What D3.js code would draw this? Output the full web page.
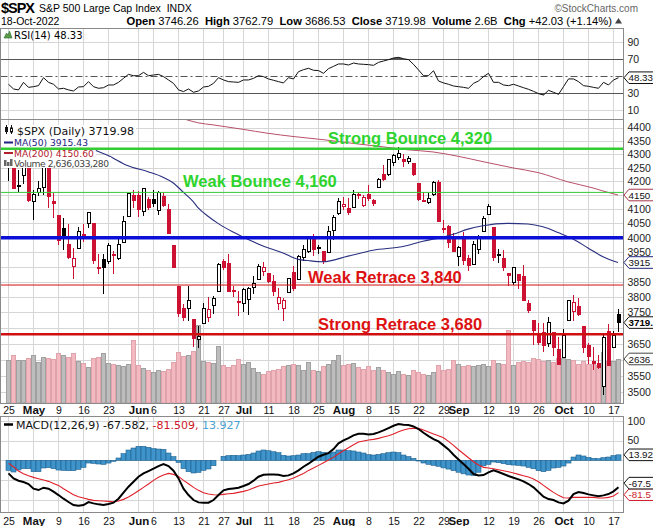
<!DOCTYPE html>
<html><head><meta charset="utf-8">
<script src="https://cdn.jsdelivr.net/npm/d3@7"></script>
<style>body{margin:0;background:#fff}svg{display:block}text{white-space:pre}</style>
</head><body>
<svg id="c" width="653" height="526"></svg>
<script>
// ---------------- DATA ----------------
const dates = ["Apr 25","Apr 26","Apr 27","Apr 28","Apr 29",
"May 2","May 3","May 4","May 5","May 6","May 9","May 10","May 11","May 12","May 13",
"May 16","May 17","May 18","May 19","May 20","May 23","May 24","May 25","May 26","May 27",
"May 31","Jun 1","Jun 2","Jun 3","Jun 6","Jun 7","Jun 8","Jun 9","Jun 10",
"Jun 13","Jun 14","Jun 15","Jun 16","Jun 17","Jun 21","Jun 22","Jun 23","Jun 24",
"Jun 27","Jun 28","Jun 29","Jun 30","Jul 1","Jul 5","Jul 6","Jul 7","Jul 8",
"Jul 11","Jul 12","Jul 13","Jul 14","Jul 15","Jul 18","Jul 19","Jul 20","Jul 21","Jul 22",
"Jul 25","Jul 26","Jul 27","Jul 28","Jul 29","Aug 1","Aug 2","Aug 3","Aug 4","Aug 5",
"Aug 8","Aug 9","Aug 10","Aug 11","Aug 12","Aug 15","Aug 16","Aug 17","Aug 18","Aug 19",
"Aug 22","Aug 23","Aug 24","Aug 25","Aug 26","Aug 29","Aug 30","Aug 31","Sep 1","Sep 2",
"Sep 6","Sep 7","Sep 8","Sep 9","Sep 12","Sep 13","Sep 14","Sep 15","Sep 16",
"Sep 19","Sep 20","Sep 21","Sep 22","Sep 23","Sep 26","Sep 27","Sep 28","Sep 29","Sep 30",
"Oct 3","Oct 4","Oct 5","Oct 6","Oct 7","Oct 10","Oct 11","Oct 12","Oct 13","Oct 14",
"Oct 17","Oct 18"];

const opens = [4255.34,4278.14,4186.52,4222.58,4253.75,
4130.61,4159.78,4181.18,4270.43,4128.17,4081.27,4035.18,3978.0,3903.95,3963.9,
4013.02,4052.0,4051.98,3899.0,3927.76,3919.42,3942.94,3929.59,3984.6,4077.43,
4151.09,4149.78,4095.41,4137.57,4134.72,4096.47,4147.12,4101.65,3974.39,
3838.15,3763.52,3764.05,3728.18,3665.9,3715.31,3733.89,3774.71,3821.75,
3920.76,3913.0,3825.09,3785.99,3781.0,3792.61,3831.98,3858.85,3888.26,
3880.94,3851.95,3779.67,3763.99,3818.0,3883.79,3860.73,3935.32,3955.47,4000.2,
3965.72,3953.22,3951.43,4026.13,4087.33,4112.38,4104.21,4107.96,4154.85,4115.87,
4155.93,4133.11,4181.02,4227.4,4225.02,4269.37,4290.46,4280.4,4273.13,4266.31,
4195.08,4133.09,4126.55,4153.26,4198.74,4034.58,4041.25,4000.67,3936.73,3994.66,
3930.89,3909.43,3959.94,4022.94,4083.67,4037.12,3940.73,3932.41,3880.95,
3849.91,3875.23,3871.4,3782.36,3727.14,3682.72,3686.44,3651.94,3687.01,3633.48,
3609.78,3726.46,3753.25,3771.97,3706.74,3647.51,3595.86,3590.83,3520.37,3690.41,
3638.65,3746.26];

const highs = [4299.02,4278.14,4240.71,4308.45,4269.68,
4169.81,4200.1,4307.66,4270.43,4157.69,4081.27,4068.82,4049.09,3964.8,4038.88,
4046.46,4090.72,4051.98,3945.96,3943.42,3981.88,3955.68,3999.33,4075.14,4158.49,
4168.34,4166.54,4177.51,4142.67,4168.78,4164.86,4160.14,4119.1,3974.39,
3838.15,3778.18,3837.56,3728.18,3707.71,3779.65,3801.79,3802.58,3913.65,
3927.72,3945.86,3836.5,3818.99,3829.82,3832.19,3870.91,3910.63,3918.5,
3880.94,3873.41,3829.44,3796.41,3863.62,3902.44,3939.81,3974.13,3999.29,4012.44,
3975.3,3953.22,4039.56,4078.95,4140.15,4144.95,4140.47,4167.66,4161.29,4151.58,
4186.62,4137.3,4211.03,4257.91,4280.47,4301.79,4325.28,4302.18,4292.53,4266.31,
4195.08,4159.77,4156.56,4200.54,4203.04,4062.99,4044.98,4015.37,3970.23,4018.43,
3942.55,3987.89,4010.5,4076.81,4119.28,4037.12,3961.94,3959.14,3880.95,
3900.45,3876.01,3907.07,3790.78,3727.14,3715.67,3717.53,3736.74,3687.01,3671.44,
3698.35,3791.92,3806.91,3797.93,3706.74,3652.17,3640.66,3613.64,3685.41,3712.0,
3689.73,3762.79];

const lows = [4200.82,4175.04,4162.9,4188.63,4124.28,
4062.51,4147.08,4148.91,4106.01,4067.91,3975.48,3958.17,3928.82,3858.87,3963.9,
3983.99,4033.93,3911.91,3876.58,3810.32,3909.04,3875.13,3925.03,3984.6,4077.43,
4104.88,4073.85,4074.37,4098.67,4109.18,4080.19,4107.2,4017.17,3900.16,
3734.3,3722.3,3722.3,3639.77,3636.87,3715.31,3717.69,3743.52,3821.75,
3889.66,3820.14,3799.02,3738.67,3752.1,3742.06,3809.37,3858.85,3869.34,
3847.22,3802.36,3759.07,3721.56,3817.18,3818.63,3860.73,3922.03,3946.71,3938.24,
3943.46,3910.74,3951.43,3992.97,4079.22,4096.02,4079.81,4107.96,4135.42,4107.31,
4128.97,4112.09,4177.26,4201.41,4219.78,4256.9,4277.77,4253.08,4261.98,4218.7,
4129.86,4124.03,4119.97,4147.59,4057.66,4017.42,3965.21,3954.53,3903.65,3906.21,
3886.75,3906.03,3944.81,4022.94,4083.67,3921.73,3912.54,3888.28,3837.08,
3838.5,3827.54,3789.49,3749.45,3647.47,3644.76,3623.29,3640.61,3610.4,3584.13,
3604.93,3726.46,3722.66,3739.22,3620.73,3588.1,3568.45,3571.03,3491.58,3579.68,
3638.65,3686.53];

const closes = [4296.12,4175.2,4183.96,4287.5,4131.93,
4155.38,4175.48,4300.17,4146.87,4123.34,3991.24,4001.05,3935.18,3930.08,4023.89,
4008.01,4088.85,3923.68,3900.79,3901.36,3973.75,3941.48,3978.73,4057.84,4158.24,
4132.15,4101.23,4176.82,4108.54,4121.43,4160.68,4115.77,4017.82,3900.86,
3749.63,3735.48,3789.99,3666.77,3674.84,3764.79,3759.89,3795.73,3911.74,
3900.11,3821.55,3818.83,3785.38,3825.33,3831.39,3845.08,3902.62,3899.38,
3854.43,3818.8,3801.78,3790.38,3863.16,3830.85,3936.69,3959.9,3998.95,3961.63,
3966.84,3921.05,4023.61,4072.43,4130.29,4118.63,4091.19,4155.17,4151.94,4145.19,
4140.06,4122.47,4210.24,4207.27,4280.15,4297.14,4305.2,4274.04,4283.74,4228.48,
4137.99,4128.73,4140.77,4199.12,4057.66,4030.61,3986.16,3955.0,3966.85,3924.26,
3908.19,3979.87,4006.18,4067.36,4110.41,3932.69,3946.01,3901.35,3873.33,
3899.89,3855.93,3789.93,3757.99,3693.23,3655.04,3647.29,3719.04,3640.47,3585.62,
3678.43,3790.93,3783.28,3744.52,3639.66,3612.39,3588.84,3577.03,3669.91,3583.07,
3677.95,3719.98];
const prevClose = 4271.78;

// volume, billions of shares
const volumes = [2.56,2.86,2.56,2.56,2.70,
2.86,2.46,2.76,2.70,2.66,3.02,2.90,2.76,3.02,2.50,
2.42,2.16,2.70,2.76,3.02,2.42,2.36,2.30,2.22,2.36,
3.75,2.30,2.10,1.96,1.86,1.96,1.90,2.06,2.46,
3.06,2.82,2.90,3.10,4.65,2.50,2.46,2.42,3.40,
2.26,2.16,2.30,2.66,2.36,2.46,2.10,1.86,1.76,
1.90,1.96,2.06,2.22,2.26,2.36,2.30,1.96,2.46,1.96,
1.90,2.22,2.36,2.56,2.86,2.30,2.36,2.42,2.16,2.06,
2.22,1.96,2.16,1.96,1.86,1.76,1.90,1.76,1.70,1.96,
1.86,1.76,1.70,1.86,2.26,1.96,2.06,2.56,2.36,2.22,
2.26,2.22,2.30,2.36,2.22,2.56,2.42,2.36,4.35,
2.26,2.46,2.50,2.46,2.70,2.66,2.50,2.56,2.46,2.70,
2.70,2.66,2.56,2.36,2.50,2.36,2.36,2.30,3.06,2.50,
2.50,2.64];

const rsi = [40.6,35.1,34.0,42.9,37.0,37.8,39.0,48.4,42.9,40.6,
35.1,35.9,34.0,32.7,37.4,37.8,43.7,37.8,35.9,36.6,
39.8,39.8,42.9,47.6,52.3,50.7,50.7,54.6,50.7,51.5,
52.3,49.6,45.7,41.7,34.0,32.0,35.1,31.2,32.7,37.4,
38.2,41.7,48.4,45.7,43.7,43.3,42.9,45.7,45.7,47.6,
50.7,49.6,46.9,45.3,43.7,42.2,48.4,46.9,55.5,57.8,
59.4,57.1,56.7,53.5,59.0,61.7,64.5,64.5,63.3,65.6,
64.5,64.1,63.7,62.9,66.4,68.0,69.6,71.5,72.3,70.7,
69.6,64.1,57.5,50.7,50.7,56.6,44.5,42.2,40.6,38.6,
37.8,37.0,35.9,41.7,44.5,49.6,53.5,42.9,42.9,39.8,
39.0,40.6,38.6,36.6,34.7,32.3,29.6,28.0,33.5,31.2,
28.8,37.8,46.9,46.9,43.7,39.0,38.2,37.0,35.9,42.9,
39.8,45.7,48.33];

const macd = [-32.9,-45.5,-51.3,-54.7,-59.7,-71.5,-74.9,-69.0,-71.5,-79.1,
-87.5,-96.7,-105.1,-112.7,-114.4,-112.7,-105.1,-108.5,-111.0,-112.7,
-110.2,-106.8,-96.7,-81.6,-66.5,-53.9,-41.3,-32.9,-27.0,-21.1,
-14.4,-9.3,-14.4,-26.1,-45.5,-71.5,-87.5,-100.1,-106.0,-106.8,
-106.8,-100.1,-87.5,-75.7,-72.3,-70.7,-69.0,-64.8,-59.7,-51.3,
-41.3,-36.2,-35.4,-35.4,-36.2,-39.6,-37.9,-32.9,-25.3,-16.1,
-8.5,0.7,9.2,14.2,18.4,28.5,42.8,50.3,56.2,63.0,
67.1,67.1,65.5,66.3,70.5,75.5,81.4,87.3,91.5,89.8,
89.0,85.6,78.9,69.7,61.3,53.7,47.8,37.7,27.6,14.2,
2.4,-9.3,-21.1,-34.5,-37.9,-37.1,-30.3,-25.3,-29.5,-34.5,
-39.6,-43.8,-48.0,-53.0,-59.7,-68.2,-79.9,-91.7,-97.6,-100.1,
-106.0,-108.5,-101.8,-85.0,-79.9,-82.4,-85.8,-88.3,-90.8,-88.3,
-85.0,-78.2,-67.582];

const signal = [-7.6,-16.1,-27.0,-33.7,-38.7,-42.9,-46.3,-49.7,-53.0,-58.1,
-63.1,-71.5,-79.1,-86.6,-91.7,-95.0,-98.4,-100.9,-101.8,-102.6,
-103.4,-104.3,-102.6,-98.4,-92.5,-85.0,-76.6,-68.2,-59.7,-50.5,
-42.9,-37.1,-32.9,-35.4,-40.4,-50.5,-58.9,-68.2,-75.7,-81.6,
-85.0,-86.6,-87.5,-85.8,-84.1,-83.3,-80.8,-78.2,-74.9,-69.8,
-64.8,-62.3,-59.7,-57.2,-55.5,-52.2,-48.8,-44.6,-38.7,-32.9,
-25.3,-19.4,-12.7,-6.0,0.7,7.5,16.7,24.3,31.8,39.4,
46.1,48.6,51.2,52.9,55.4,58.7,62.1,66.3,72.2,76.4,
79.7,80.6,80.6,76.4,71.3,66.3,62.1,57.1,47.8,37.7,
26.8,16.7,6.6,-3.4,-11.9,-17.7,-19.4,-21.1,-23.6,-26.1,
-28.7,-32.0,-35.4,-38.7,-42.1,-47.1,-53.9,-63.1,-72.4,-80.8,
-88.3,-94.2,-95.0,-93.4,-93.4,-93.4,-93.4,-93.4,-95.0,-95.0,
-93.4,-90.0,-81.509];

const hist = [-25.3,-29.4,-24.3,-21.0,-21.0,-28.6,-28.6,-19.3,-18.5,-21.0,
-24.4,-25.2,-26.0,-26.1,-22.7,-17.7,-6.7,-7.6,-9.2,-10.1,
-6.8,-2.5,5.9,16.8,26.0,31.1,35.3,35.3,32.7,29.4,
28.5,27.8,18.5,9.3,-5.1,-21.0,-28.6,-31.9,-30.3,-25.2,
-21.8,-13.5,0.0,10.1,11.8,12.6,11.8,13.4,15.2,18.5,
23.5,26.1,24.3,21.8,19.3,12.6,10.9,11.7,13.4,16.8,
16.8,20.1,21.9,20.2,17.7,21.0,26.1,26.0,24.4,23.6,
21.0,18.5,14.3,13.4,15.1,16.8,19.3,21.0,19.3,13.4,
9.3,5.0,-1.7,-6.7,-10.0,-12.6,-15.0,-19.0,-22.0,-26.0,
-30.0,-34.0,-37.0,-38.0,-30.0,-14.0,-10.0,-4.2,-5.9,-8.4,
-10.9,-11.8,-12.6,-14.3,-17.6,-21.1,-26.0,-28.6,-25.2,-19.3,
-17.7,-14.3,-6.8,8.4,13.5,11.0,7.6,5.1,4.2,6.7,
8.4,11.8,13.927];

const ma50Dates = ["May 9","May 13","May 18","May 23","May 27","Jun 3","Jun 8","Jun 10","Jun 14","Jun 16","Jun 17","Jun 22","Jun 24","Jun 29","Jul 1","Jul 8","Jul 14","Jul 19","Jul 21","Jul 26","Aug 2","Aug 9","Aug 17","Aug 23","Aug 25","Aug 29","Aug 31","Sep 6","Sep 9","Sep 16","Sep 22","Sep 27","Sep 30","Oct 5","Oct 10","Oct 13","Oct 18"];
const ma50Vals = [4370,4340,4318,4295,4257,4235,4215,4195,4162,4128,4106,4075,4050,4020,4003,3972,3948,3926,3922,3918,3937,3957,3970,3988,3995,4002,4012,4030,4042,4050,4048,4038,4018,3996,3965,3935,3915.43];
const ma200Dates = ["Jun 13","Jun 15","Jun 17","Jun 23","Jul 1","Jul 11","Jul 18","Jul 26","Aug 3","Aug 11","Aug 18","Aug 25","Sep 1","Sep 9","Sep 19","Sep 26","Oct 4","Oct 11","Oct 13","Oct 18"];
const ma200Vals = [4440,4428,4418,4410,4393,4378,4366,4354,4340,4327,4316,4308,4292,4272,4249,4232,4198,4176,4165,4150.60];

const levelNames = ["Strong Bounce 4,320","Weak Bounce 4,160","","Weak Retrace 3,840","Strong Retrace 3,680"];
const levelValues = [4320,4160,4000,3840,3680];

const tickDates = ["Apr 25","May 2","May 9","May 16","May 23","Jun 1","Jun 6","Jun 13","Jun 21","Jun 27","Jul 1","Jul 11","Jul 18","Jul 25","Aug 1","Aug 8","Aug 15","Aug 22","Aug 29","Sep 1","Sep 12","Sep 19","Sep 26","Oct 3","Oct 10","Oct 17"];
const tickLabels = ["25","May","9","16","23","Jun","6","13","21","27","Jul","11","18","25","Aug","8","15","22","29","Sep","12","19","26","Oct","10","17"];
const priceGrid = [4400,4350,4300,4250,4200,4150,4100,4050,4000,3950,3900,3850,3800,3750,3700,3650,3600,3550,3500];
const priceLabels = [4400,4350,4300,4250,4200,4100,4050,4000,3950,3850,3800,3750,3650,3550,3500];
const rsiTicks = [90,70,30,10];
const macdGrid = [100,50,0,-50,-100];
const macdLabels = [100,50];

// ---------------- LAYOUT ----------------
const svg = d3.select("#c");
const SANS = "'Liberation Sans', Arial, sans-serif";
const DV = "'DejaVu Sans', sans-serif";
const plotL = 0.5, plotR = 623.5;
const rsiTop = 28.5, rsiBot = 119.5;
const pTop = 119.5, pBot = 403.5;
const mTop = 416.5, mBot = 512.5;
const GRID = "#d6d6d6";
const RED = "#cc1133";

const x = d3.scalePoint().domain(dates).range([8, 618]);
const yR = d3.scaleLinear().domain([0, 100]).range([118.8, 33.8]);
const yP = d3.scaleLog().domain([4400, 3500]).range([127.5, 392.3]);
const yV = d3.scaleLinear().domain([0, 5]).range([403, 319.5]);
const yM = d3.scaleLinear().domain([100, -100]).range([420.7, 500]);

const defs = svg.append("defs");
function clip(id, top, bot){
  defs.append("clipPath").attr("id", id).append("rect")
    .attr("x", plotL).attr("y", top).attr("width", plotR - plotL).attr("height", bot - top);
}
clip("cr", rsiTop, rsiBot); clip("cp", pTop, pBot); clip("cm", mTop, mBot);

function vgrid(g, top, bot){
  g.selectAll(null).data(tickDates).enter().append("line")
    .attr("x1", d => x(d) + 0.5).attr("x2", d => x(d) + 0.5)
    .attr("y1", top).attr("y2", bot).attr("stroke", GRID);
}
function hgrid(g, scale, vals){
  g.selectAll(null).data(vals).enter().append("line")
    .attr("x1", plotL).attr("x2", plotR)
    .attr("y1", d => Math.round(scale(d)) + 0.5).attr("y2", d => Math.round(scale(d)) + 0.5)
    .attr("stroke", GRID);
}
function rightAxis(scale, vals, fmt){
  const g = svg.append("g").attr("transform", `translate(${plotR},0)`)
    .call(d3.axisRight(scale).tickValues(vals).tickFormat(fmt).tickSize(0).tickPadding(4));
  g.select(".domain").remove();
  g.selectAll("text").attr("font-family", SANS).attr("font-size", 10.5).attr("fill", "#222");
  return g;
}
function tag(y, label, stroke, color, bold){
  const x0 = plotR + 0.5, hh = 5.8;
  const g = svg.append("g");
  g.append("path")
    .attr("d", `M${x0},${y} L${x0+5},${y-hh} L${x0+40},${y-hh} L${x0+40},${y+hh} L${x0+5},${y+hh} Z`)
    .attr("fill", "#fff").attr("stroke", stroke);
  g.append("text").attr("x", x0 + 4.5).attr("y", y + 3.6)
    .attr("font-family", SANS).attr("font-size", 9.8).attr("font-weight", bold ? "bold" : "normal")
    .attr("fill", color).text(label);
}

// ---------------- HEADER ----------------
svg.append("text").attr("x", 1).attr("y", 13).attr("font-family", SANS).attr("font-size", 14.5)
  .attr("font-weight", "bold").attr("textLength", 34).text("$SPX");
svg.append("text").attr("x", 39).attr("y", 12).attr("font-family", SANS).attr("font-size", 10.5)
  .text("S&P 500 Large Cap Index  INDX");
svg.append("text").attr("x", 638).attr("y", 12).attr("text-anchor", "end").attr("font-family", SANS)
  .attr("font-size", 10).attr("fill", "#666").text("©StockCharts.com");
svg.append("text").attr("x", 1).attr("y", 24.5).attr("font-family", SANS).attr("font-size", 10.5)
  .text("18-Oct-2022");
const info = [["Open", 1], [" 3746.26  ", 0], ["High", 1], [" 3762.79  ", 0], ["Low", 1], [" 3686.53  ", 0],
  ["Close", 1], [" 3719.98  ", 0], ["Volume", 1], [" 2.6B  ", 0], ["Chg", 1], [" +42.03 (+1.14%)", 0]];
const infoT = svg.append("text").attr("x", 612).attr("y", 24.5).attr("text-anchor", "end")
  .attr("font-family", SANS).attr("font-size", 11.2);
info.forEach(([t, b]) => infoT.append("tspan").attr("font-weight", b ? "bold" : "normal").text(t));
svg.append("path").attr("d", "M615,23.5 L618.5,18 L622,23.5 Z").attr("fill", "#444");

// ---------------- RSI PANEL ----------------
const gR = svg.append("g");
gR.append("rect").attr("x", plotL).attr("y", rsiTop).attr("width", plotR - plotL).attr("height", rsiBot - rsiTop).attr("fill", "#fff");
vgrid(gR, rsiTop, rsiBot);
hgrid(gR, yR, [10, 90]);
[30, 70].forEach(v => gR.append("line").attr("x1", plotL).attr("x2", plotR)
  .attr("y1", Math.round(yR(v)) + 0.5).attr("y2", Math.round(yR(v)) + 0.5).attr("stroke", "#555"));
gR.append("line").attr("x1", plotL).attr("x2", plotR).attr("y1", Math.round(yR(50)) + 0.5).attr("y2", Math.round(yR(50)) + 0.5)
  .attr("stroke", "#555").attr("stroke-dasharray", "7,3,2,3");
const rsiLine = d3.line().x((d, i) => x(dates[i]) + 0.5).y(d => yR(d));
const rsiArea = d3.area().x((d, i) => x(dates[i]) + 0.5).y1(d => yR(d));
defs.append("clipPath").attr("id", "r70").append("rect").attr("x", 0).attr("y", 0).attr("width", 653).attr("height", yR(70));
defs.append("clipPath").attr("id", "r30").append("rect").attr("x", 0).attr("y", yR(30)).attr("width", 653).attr("height", 60);
gR.append("path").datum(rsi).attr("d", rsiArea.y0(yR(70))).attr("fill", "#555").attr("clip-path", "url(#r70)");
gR.append("path").datum(rsi).attr("d", rsiArea.y0(yR(30))).attr("fill", "#555").attr("clip-path", "url(#r30)");
gR.append("path").datum(rsi).attr("d", rsiLine).attr("fill", "none").attr("stroke", "#111").attr("stroke-width", 1)
  .attr("clip-path", "url(#cr)");
gR.append("path").attr("d", "M4,38 L6.5,33 L8,35 L9.5,31 L12,38 Z").attr("fill", "#5a9a4a").attr("stroke", "#2f6f2f").attr("stroke-width", 0.6);
gR.append("text").attr("x", 14).attr("y", 38.5).attr("font-family", DV).attr("font-size", 10)
  .text("RSI(14) 48.33");
gR.append("rect").attr("x", plotL).attr("y", rsiTop).attr("width", plotR - plotL).attr("height", rsiBot - rsiTop)
  .attr("fill", "none").attr("stroke", "#8a8a8a");
rightAxis(yR, rsiTicks, d3.format("d"));

// ---------------- PRICE PANEL ----------------
const gP = svg.append("g");
gP.append("rect").attr("x", plotL).attr("y", pTop).attr("width", plotR - plotL).attr("height", pBot - pTop).attr("fill", "#fff");
vgrid(gP, pTop, pBot);
hgrid(gP, yP, priceGrid);
const gPc = gP.append("g").attr("clip-path", "url(#cp)");

// volume
const upDay = closes.map((c, i) => c >= (i ? closes[i - 1] : prevClose));
gPc.selectAll(null).data(volumes).enter().append("rect")
  .attr("x", (d, i) => x(dates[i]) - 1.5).attr("width", 4)
  .attr("y", d => Math.round(yV(d)) + 0.5).attr("height", d => 403 - Math.round(yV(d)) - 0.5)
  .attr("fill", (d, i) => upDay[i] ? "#bdbdbd" : "#f2b9c0")
  .attr("stroke", (d, i) => upDay[i] ? "#a0a0a0" : "#e0a2ab").attr("stroke-width", 1);

// candles
const candles = gPc.append("g").attr("shape-rendering", "crispEdges");
dates.forEach((d, i) => {
  const xi = x(d), o = opens[i], c = closes[i], h = highs[i], l = lows[i];
  const col = upDay[i] ? "#000" : RED;
  candles.append("line").attr("x1", xi + 0.5).attr("x2", xi + 0.5)
    .attr("y1", yP(h)).attr("y2", yP(l)).attr("stroke", col).attr("stroke-width", 1);
  const top = yP(Math.max(o, c)), bot = yP(Math.min(o, c));
  if (c > o) {
    candles.append("rect").attr("x", xi - 1 + 0.5).attr("width", 3)
      .attr("y", Math.round(top) + 0.5).attr("height", Math.max(1, Math.round(bot) - Math.round(top)))
      .attr("fill", "#fff").attr("stroke", col);
  } else {
    candles.append("rect").attr("x", xi - 1).attr("width", 4)
      .attr("y", Math.round(top)).attr("height", Math.max(2, Math.round(bot) - Math.round(top) + 1))
      .attr("fill", col);
  }
});

// moving averages
const maLine = d3.line().curve(d3.curveMonotoneX).x(d => x(d[0])).y(d => yP(d[1]));
gPc.append("path").datum(ma200Dates.map((d, i) => [d, ma200Vals[i]])).attr("d", maLine)
  .attr("fill", "none").attr("stroke", "#b8506a").attr("stroke-width", 1);
gPc.append("path").datum(ma50Dates.map((d, i) => [d, ma50Vals[i]])).attr("d", maLine)
  .attr("fill", "none").attr("stroke", "#2a3080").attr("stroke-width", 1.1);

// legend rows (white backgrounds cover the marks)
const legendRows = [
  {y: 135, text: "$SPX (Daily) 3719.98", color: "#111", tx: 17, font: DV, size: 11},
  {y: 146, text: "MA(50) 3915.43", color: "#1d2380", tx: 14, font: DV, size: 9.2},
  {y: 156.5, text: "MA(200) 4150.60", color: "#b0202e", tx: 14, font: DV, size: 9.2},
  {y: 167, text: "Volume 2,636,033,280", color: "#444", tx: 14, font: DV, size: 9.2}
];
const legBg = gP.append("g"), legTx = svg.append("g");
legendRows.forEach((r, k) => {
  const t = legTx.append("text").attr("x", r.tx).attr("y", r.y).attr("font-family", r.font).attr("font-size", r.size)
    .attr("fill", r.color).text(r.text);
  if (k === 3) t.attr("textLength", 95);
  const w = k === 3 ? 95 : t.node().getComputedTextLength();
  legBg.append("rect").attr("x", 1).attr("y", r.y - 10).attr("width", r.tx + w + 1).attr("height", 11).attr("fill", "#fff");
});
// legend icons
legTx.append("line").attr("x1", 6.5).attr("x2", 6.5).attr("y1", 125).attr("y2", 134).attr("stroke", "#111");
legTx.append("rect").attr("x", 5).attr("y", 127).attr("width", 3).attr("height", 5).attr("fill", "#111");
legTx.append("line").attr("x1", 11.5).attr("x2", 11.5).attr("y1", 125).attr("y2", 134).attr("stroke", "#111");
legTx.append("rect").attr("x", 10.5).attr("y", 128).attr("width", 2).attr("height", 4).attr("fill", "#fff").attr("stroke", "#111");
legTx.append("line").attr("x1", 4).attr("x2", 13).attr("y1", 142.5).attr("y2", 142.5).attr("stroke", "#1d2380").attr("stroke-width", 2);
legTx.append("line").attr("x1", 4).attr("x2", 13).attr("y1", 153).attr("y2", 153).attr("stroke", "#b0202e").attr("stroke-width", 2);
[[4, 6], [7, 4], [10, 7]].forEach(([bx, bh]) => legTx.append("rect").attr("x", bx).attr("y", 166 - bh).attr("width", 2.5)
  .attr("height", bh).attr("fill", "#666"));

// horizontal level lines
const levelStyle = [
  {color: "#33cc33", w: 2.5}, {color: "#33cc33", w: 1}, {color: "#0a10d8", w: 3.5},
  {color: "#d01010", w: 1}, {color: "#d01010", w: 2.5}
];
const gL = svg.append("g").attr("clip-path", "url(#cp)");
levelValues.forEach((v, k) => gL.append("line").attr("x1", plotL).attr("x2", plotR)
  .attr("y1", yP(v)).attr("y2", yP(v)).attr("stroke", levelStyle[k].color).attr("stroke-width", levelStyle[k].w));
svg.node().appendChild(legTx.node());
const levelLabelPos = [[328, 143.5, "#2ed42e", 16.5], [183, 186.5, "#2ed42e", 16.5], null, [308, 283, "#dd1111", 16.5], [318, 329.5, "#dd1111", 16.5]];
levelNames.forEach((n, k) => {
  if (!n) return;
  const p = levelLabelPos[k];
  svg.append("text").attr("x", p[0]).attr("y", p[1]).attr("font-family", SANS).attr("font-size", p[3])
    .attr("font-weight", "bold").attr("fill", p[2]).text(n);
});
svg.append("rect").attr("x", plotL).attr("y", pTop).attr("width", plotR - plotL).attr("height", pBot - pTop)
  .attr("fill", "none").attr("stroke", "#8a8a8a");
rightAxis(yP, priceLabels, d3.format("d"));

// ---------------- X AXES ----------------
function xAxis(yBase){
  const g = svg.append("g").attr("transform", `translate(0.5,${yBase})`)
    .call(d3.axisBottom(x).tickValues(tickDates).tickSize(0).tickPadding(0)
      .tickFormat(d => tickLabels[tickDates.indexOf(d)]));
  g.select(".domain").remove();
  g.selectAll("text").attr("dy", 0).attr("y", 0).attr("font-family", SANS)
    .attr("font-size", d => /^[A-Z]/.test(tickLabels[tickDates.indexOf(d)]) ? 11.5 : 10.5)
    .attr("font-weight", d => /^[A-Z]/.test(tickLabels[tickDates.indexOf(d)]) ? "bold" : "normal")
    .attr("fill", "#111");
}
xAxis(413.5);
xAxis(525);

// ---------------- MACD PANEL ----------------
const gM = svg.append("g");
gM.append("rect").attr("x", plotL).attr("y", mTop).attr("width", plotR - plotL).attr("height", mBot - mTop).attr("fill", "#fff");
vgrid(gM, mTop, mBot);
hgrid(gM, yM, macdGrid);
const gMc = gM.append("g").attr("clip-path", "url(#cm)");
gMc.selectAll(null).data(hist).enter().append("rect")
  .attr("x", (d, i) => x(dates[i]) - 2).attr("width", 5)
  .attr("y", d => Math.min(yM(0), yM(d))).attr("height", d => Math.abs(yM(d) - yM(0)))
  .attr("fill", "#3f95cb").attr("stroke", "#1d5f8c").attr("stroke-width", 0.6);
const mLine = d3.line().x((d, i) => x(dates[i]) + 0.5).y(d => yM(d));
gMc.append("path").datum(signal).attr("d", mLine).attr("fill", "none").attr("stroke", "#e0202a").attr("stroke-width", 1.1);
gMc.append("path").datum(macd).attr("d", mLine).attr("fill", "none").attr("stroke", "#000").attr("stroke-width", 2);
gM.append("line").attr("x1", 4).attr("x2", 13).attr("y1", 424.5).attr("y2", 424.5).attr("stroke", "#000").attr("stroke-width", 2.5);
const mt = gM.append("text").attr("x", 16).attr("y", 428.5).attr("font-family", DV).attr("font-size", 11);
mt.append("tspan").attr("fill", "#111").text("MACD(12,26,9) -67.582, ");
mt.append("tspan").attr("fill", "#d0182a").text("-81.509, ");
mt.append("tspan").attr("fill", "#4aa0d0").text("13.927");
gM.append("rect").attr("x", plotL).attr("y", mTop).attr("width", plotR - plotL).attr("height", mBot - mTop)
  .attr("fill", "none").attr("stroke", "#8a8a8a");
rightAxis(yM, macdLabels, d3.format("d"));

// ---------------- VALUE TAGS (text trimmed to the visible edge, as in the source) ----------------
tag(yR(48.33), "48.33", "#111", "#111", false);
tag(yP(4150.60), "4150", "#a8354a", "#111", false);
tag(yP(3915.43), "3915", "#22287a", "#111", false);
tag(yP(3719.98) + 0.8, "3719.", "#111", "#000", true);
tag(yV(2.636), "2636", "#444", "#111", false);
tag(yM(13.927), "13.92", "#111", "#111", false);
tag(yM(-81.509) + 2, "-81.5", "#d0182a", "#d0182a", false);
tag(yM(-67.582) - 4, "-67.5", "#111", "#111", false);
</script>
</body></html>
